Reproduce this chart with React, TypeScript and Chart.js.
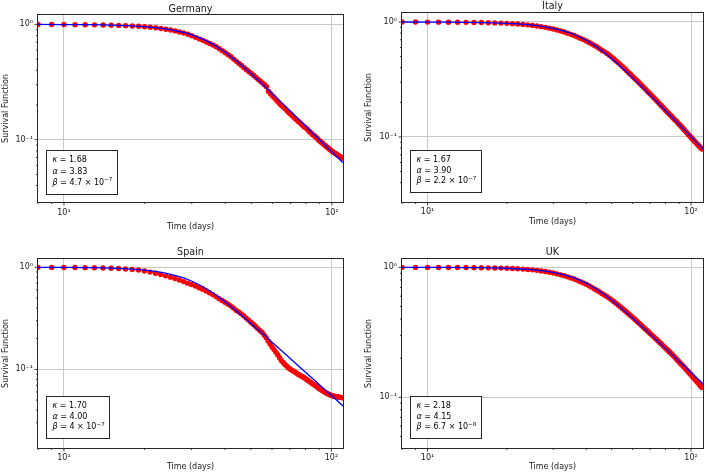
import React, { useEffect, useRef } from 'react';
import { Chart, registerables } from 'chart.js';

Chart.register(...registerables);

const FONT = '"DejaVu Sans", sans-serif';

// ---------- data ----------
const days = [
  8, 9, 10, 11, 12, 13, 14, 15, 16, 17,
  18, 19, 20, 21, 22, 23, 24, 25, 26, 27,
  28, 29, 30, 31, 32, 33, 34, 35, 36, 37,
  38, 39, 40, 41, 42, 43, 44, 45, 46, 47,
  48, 49, 50, 51, 52, 53, 54, 55, 56, 57,
  58, 59, 60, 61, 62, 63, 64, 65, 66, 67,
  68, 69, 70, 71, 72, 73, 74, 75, 76, 77,
  78, 79, 80, 81, 82, 83, 84, 85, 86, 87,
  88, 89, 90, 91, 92, 93, 94, 95, 96, 97,
  98, 99, 100, 101, 102, 103, 104, 105, 106, 107,
  108, 109, 110,
];

const germanyObserved = [
  0.999, 0.998, 0.997, 0.995, 0.994, 0.991, 0.989, 0.985, 0.980, 0.975,
  0.969, 0.962, 0.954, 0.944, 0.934, 0.921, 0.908, 0.893, 0.878, 0.860,
  0.842, 0.820, 0.797, 0.772, 0.748, 0.727, 0.704, 0.682, 0.662, 0.640,
  0.616, 0.592, 0.568, 0.546, 0.524, 0.500, 0.478, 0.458, 0.440, 0.421,
  0.404, 0.389, 0.375, 0.362, 0.348, 0.334, 0.322, 0.311, 0.300, 0.288,
  0.262, 0.250, 0.239, 0.231, 0.221, 0.212, 0.204, 0.197, 0.191, 0.185,
  0.178, 0.172, 0.167, 0.162, 0.157, 0.152, 0.148, 0.144, 0.140, 0.136,
  0.132, 0.129, 0.126, 0.123, 0.119, 0.116, 0.113, 0.110, 0.108, 0.105,
  0.103, 0.100, 0.0975, 0.0955, 0.0935, 0.0915, 0.0895, 0.0877, 0.0860, 0.0843,
  0.0826, 0.0810, 0.0795, 0.0782, 0.0770, 0.0758, 0.0747, 0.0737, 0.0727, 0.0717,
  0.0707, 0.0698, 0.0690,
];

const italyObserved = [
  0.999, 0.999, 0.998, 0.997, 0.996, 0.995, 0.993, 0.991, 0.989, 0.986,
  0.982, 0.978, 0.973, 0.967, 0.961, 0.953, 0.944, 0.934, 0.923, 0.911,
  0.898, 0.884, 0.868, 0.851, 0.834, 0.817, 0.798, 0.781, 0.763, 0.742,
  0.722, 0.703, 0.684, 0.664, 0.643, 0.624, 0.606, 0.586, 0.566, 0.550,
  0.532, 0.514, 0.495, 0.476, 0.458, 0.441, 0.424, 0.408, 0.392, 0.377,
  0.362, 0.349, 0.336, 0.324, 0.313, 0.302, 0.291, 0.281, 0.271, 0.262,
  0.252, 0.244, 0.236, 0.228, 0.221, 0.214, 0.207, 0.200, 0.194, 0.188,
  0.182, 0.177, 0.171, 0.166, 0.162, 0.157, 0.153, 0.148, 0.144, 0.140,
  0.137, 0.133, 0.129, 0.126, 0.123, 0.119, 0.116, 0.113, 0.110, 0.107,
  0.104, 0.102, 0.0990, 0.0965, 0.0942, 0.0920, 0.0899, 0.0878, 0.0858, 0.0839,
  0.0821, 0.0803, 0.0786,
];

const spainObserved = [
  0.998, 0.997, 0.996, 0.994, 0.992, 0.988, 0.984, 0.978, 0.972, 0.963,
  0.953, 0.939, 0.919, 0.897, 0.875, 0.849, 0.824, 0.800, 0.777, 0.750,
  0.724, 0.699, 0.679, 0.655, 0.631, 0.609, 0.587, 0.563, 0.540, 0.516,
  0.493, 0.473, 0.455, 0.437, 0.419, 0.399, 0.379, 0.366, 0.350, 0.335,
  0.318, 0.304, 0.290, 0.277, 0.265, 0.252, 0.241, 0.231, 0.217, 0.204,
  0.190, 0.177, 0.166, 0.157, 0.147, 0.139, 0.130, 0.122, 0.117, 0.112,
  0.108, 0.104, 0.101, 0.0984, 0.0964, 0.0945, 0.0920, 0.0896, 0.0880, 0.0864,
  0.0848, 0.0832, 0.0812, 0.0794, 0.0776, 0.0759, 0.0742, 0.0725, 0.0710, 0.0695,
  0.0681, 0.0666, 0.0648, 0.0638, 0.0626, 0.0614, 0.0604, 0.0593, 0.0584, 0.0576,
  0.0568, 0.0563, 0.0556, 0.0552, 0.0548, 0.0545, 0.0542, 0.0539, 0.0536, 0.0534,
  0.0532, 0.0530, 0.0528,
];

const ukObserved = [
  0.999, 0.999, 0.999, 0.998, 0.998, 0.997, 0.996, 0.994, 0.993, 0.991,
  0.989, 0.986, 0.983, 0.979, 0.975, 0.969, 0.963, 0.956, 0.948, 0.938,
  0.928, 0.916, 0.904, 0.890, 0.875, 0.861, 0.845, 0.829, 0.813, 0.794,
  0.776, 0.758, 0.741, 0.721, 0.701, 0.682, 0.664, 0.645, 0.627, 0.610,
  0.594, 0.577, 0.560, 0.543, 0.527, 0.511, 0.495, 0.480, 0.465, 0.451,
  0.437, 0.424, 0.412, 0.400, 0.388, 0.377, 0.366, 0.355, 0.345, 0.336,
  0.327, 0.318, 0.309, 0.301, 0.293, 0.286, 0.278, 0.271, 0.264, 0.258,
  0.251, 0.245, 0.239, 0.233, 0.228, 0.222, 0.217, 0.212, 0.207, 0.202,
  0.197, 0.192, 0.188, 0.183, 0.179, 0.175, 0.171, 0.167, 0.163, 0.159,
  0.156, 0.152, 0.149, 0.145, 0.142, 0.139, 0.136, 0.133, 0.130, 0.127,
  0.124, 0.121, 0.119,
];

const fitDays = [8, 10, 12, 14, 16, 18, 20, 22, 24, 26, 28, 30, 33, 36, 40, 44, 48, 52, 56, 60, 65, 70, 75, 80, 85, 90, 95, 100, 105, 110, 112];

const germanyFit = [0.9986, 0.9968, 0.9936, 0.9885, 0.981, 0.9703, 0.9559, 0.937, 0.9134, 0.8847, 0.8503, 0.8112, 0.7439, 0.6711, 0.5727, 0.4822, 0.4054, 0.342, 0.2909, 0.2493, 0.2084, 0.1762, 0.1507, 0.1301, 0.1133, 0.0995, 0.088, 0.0783, 0.07, 0.063, 0.0605];
const italyFit = [0.9993, 0.9983, 0.9964, 0.9935, 0.9891, 0.9828, 0.9743, 0.9629, 0.9484, 0.9301, 0.908, 0.8818, 0.8344, 0.7783, 0.6933, 0.6044, 0.5197, 0.4444, 0.3801, 0.3266, 0.2729, 0.2302, 0.1963, 0.169, 0.1468, 0.1285, 0.1133, 0.1005, 0.0897, 0.0804, 0.0772];
const spainFit = [0.9984, 0.996, 0.9917, 0.9847, 0.9741, 0.9589, 0.9381, 0.911, 0.8767, 0.8353, 0.7873, 0.7337, 0.6479, 0.5625, 0.4597, 0.3754, 0.3092, 0.2574, 0.2168, 0.1845, 0.153, 0.1286, 0.1093, 0.0939, 0.0815, 0.0712, 0.0627, 0.0556, 0.0496, 0.0444, 0.0426];
const ukFit = [0.9996, 0.9991, 0.998, 0.9962, 0.9934, 0.9892, 0.9834, 0.9754, 0.9649, 0.9514, 0.9346, 0.9142, 0.8761, 0.8292, 0.7554, 0.6749, 0.5957, 0.5231, 0.4599, 0.406, 0.3501, 0.3047, 0.2674, 0.2367, 0.211, 0.1893, 0.1708, 0.1549, 0.1412, 0.1292, 0.1249];

const panelTitles = ['Germany', 'Italy', 'Spain', 'UK'];
const kappaValues = ['1.68', '1.67', '1.70', '2.18'];
const alphaValues = ['3.83', '3.90', '4.00', '4.15'];
const betaMantissas = ['4.7', '2.2', '4', '6.7'];
const betaExponents = ['\u22127', '\u22127', '\u22127', '\u22128'];

const xMins = [8, 8, 8, 8];
const xMaxs = [110, 111, 110.5, 111];
const yMins = [0.0288, 0.0272, 0.017, 0.0407];
const yMaxs = [1.206, 1.197, 1.205, 1.159];

const xTickValues = [10, 100];
const xTickLabels = ['10\u00b9', '10\u00b2'];
const yTickValues = [1, 0.1];
const yTickLabels = ['10\u2070', '10\u207b\u00b9'];

const xAxisTitle = 'Time (days)';
const yAxisTitle = 'Survival Function';

const observedSeries = [germanyObserved, italyObserved, spainObserved, ukObserved];
const fitSeries = [germanyFit, italyFit, spainFit, ukFit];

// ---------- layout (style only) ----------
const LAYOUT = [
  { left: 0, top: 0, padTop: 15, padRight: 11, yAxisW: 38, xAxisH: 35, yTitlePad: 1, xTitlePad: 5.5, xTickPad: 6, titleGap: 3.5, boxGap: 7, boxH: 45 },
  { left: 354, top: 0, padTop: 13, padRight: 1, yAxisW: 48, xAxisH: 35, yTitlePad: 10, xTitlePad: 10.5, xTickPad: 5, titleGap: 4, boxGap: 9, boxH: 43 },
  { left: 0, top: 237, padTop: 22, padRight: 11, yAxisW: 38, xAxisH: 26, yTitlePad: 1, xTitlePad: 2.2, xTickPad: 5, titleGap: 4.5, boxGap: 9, boxH: 43 },
  { left: 354, top: 237, padTop: 22, padRight: 1, yAxisW: 48, xAxisH: 26, yTitlePad: 10, xTitlePad: 2.2, xTickPad: 5, titleGap: 4, boxGap: 9, boxH: 43 },
];

const W = 354;
const H = 237;
const TEXT = '#1a1a1a';
const SPINE = '#262626';
const GRID = '#c8c8c8';

function isDecade(v: number) {
  if (!(v > 0)) return false;
  const l = Math.log10(v);
  return Math.abs(l - Math.round(l)) < 1e-6;
}

function labelFor(values: number[], labels: string[], v: number) {
  for (let i = 0; i < values.length; i++) {
    if (Math.abs(values[i] - v) / values[i] < 1e-6) return labels[i];
  }
  return '';
}

function makeDecor(i: number) {
  const L = LAYOUT[i];
  return {
    id: 'decor' + i,
    afterDatasetsDraw(chart: any) {
      const { ctx, chartArea: a, scales } = chart;
      ctx.save();
      ctx.strokeStyle = SPINE;
      ctx.lineWidth = 0.9;
      const sig = (v: number) => {
        const e = Math.floor(Math.log10(v) + 1e-9);
        return v / Math.pow(10, e);
      };
      for (const t of scales.x.ticks) {
        const s = sig(t.value);
        if (Math.abs(s - Math.round(s)) > 1e-6) continue;
        const px = scales.x.getPixelForValue(t.value);
        if (px < a.left - 0.5 || px > a.right + 0.5) continue;
        const len = Math.round(s) === 1 ? 3.5 : 2;
        ctx.beginPath();
        ctx.moveTo(px, a.bottom);
        ctx.lineTo(px, a.bottom + len);
        ctx.stroke();
      }
      for (const t of scales.y.ticks) {
        const s = sig(t.value);
        if (Math.abs(s - Math.round(s)) > 1e-6) continue;
        const py = scales.y.getPixelForValue(t.value);
        if (py < a.top - 0.5 || py > a.bottom + 0.5) continue;
        const len = Math.round(s) === 1 ? 3.5 : 2;
        ctx.beginPath();
        ctx.moveTo(a.left, py);
        ctx.lineTo(a.left - len, py);
        ctx.stroke();
      }
      ctx.strokeStyle = SPINE;
      ctx.lineWidth = 1;
      ctx.strokeRect(a.left - 0.5, a.top - 0.5, a.right - a.left + 1, a.bottom - a.top + 1);
      ctx.fillStyle = TEXT;
      ctx.font = `9.6px ${FONT}`;
      ctx.textAlign = 'center';
      ctx.textBaseline = 'alphabetic';
      ctx.fillText(panelTitles[i], (a.left + a.right) / 2, a.top - L.titleGap);
      const size = 8;
      const lines = [
        [{ t: '\u03ba', it: true }, { t: ' = ' + kappaValues[i] }],
        [{ t: '\u03b1', it: true }, { t: ' = ' + alphaValues[i] }],
        [{ t: '\u03b2', it: true }, { t: ' = ' + betaMantissas[i] + ' \u00d7 10' }, { t: betaExponents[i], sup: true }],
      ] as { t: string; it?: boolean; sup?: boolean }[][];
      const fontOf = (seg: { it?: boolean; sup?: boolean }) =>
        `${seg.it ? 'italic ' : ''}${seg.sup ? size * 0.7 : size}px ${FONT}`;
      let maxW = 0;
      for (const line of lines) {
        let w = 0;
        for (const seg of line) {
          ctx.font = fontOf(seg);
          w += ctx.measureText(seg.t).width;
        }
        maxW = Math.max(maxW, w);
      }
      const boxLeft = Math.round(a.left + 8);
      const textX = boxLeft + 6.5;
      const boxBottom = Math.round(a.bottom - L.boxGap);
      const boxTop = boxBottom - L.boxH;
      const boxRight = Math.round(textX + maxW + 5.5);
      ctx.fillStyle = '#ffffff';
      ctx.fillRect(boxLeft, boxTop, boxRight - boxLeft, boxBottom - boxTop);
      ctx.strokeStyle = SPINE;
      ctx.lineWidth = 1;
      ctx.strokeRect(boxLeft + 0.5, boxTop + 0.5, boxRight - boxLeft - 1, boxBottom - boxTop - 1);
      ctx.fillStyle = '#000000';
      ctx.textAlign = 'left';
      ctx.textBaseline = 'alphabetic';
      const step = (L.boxH - 12) / 3 + 0.2;
      lines.forEach((line, li) => {
        let x = textX;
        const base = boxTop + 12.3 + li * step;
        for (const seg of line) {
          ctx.font = fontOf(seg);
          ctx.fillText(seg.t, x, seg.sup ? base - 3.4 : base);
          x += ctx.measureText(seg.t).width;
        }
      });
      ctx.restore();
    },
  };
}

function makeConfig(i: number): any {
  const L = LAYOUT[i];
  const obs = observedSeries[i];
  const fit = fitSeries[i];
  const gridColor = (c: any) => (c.tick && isDecade(c.tick.value) ? GRID : 'rgba(0,0,0,0)');
  return {
    type: 'scatter',
    data: {
      datasets: [
        {
          label: 'fit',
          data: fitDays.map((d, k) => ({ x: d, y: fit[k] })),
          showLine: true,
          borderColor: '#0000ff',
          backgroundColor: '#0000ff',
          borderWidth: 1.3,
          pointRadius: 0,
          tension: 0,
        },
        {
          label: 'observed',
          data: days.map((d, k) => ({ x: d, y: obs[k] })),
          showLine: false,
          pointRadius: 2.7,
          pointBorderWidth: 0,
          pointBackgroundColor: '#ff0000',
          backgroundColor: '#ff0000',
          borderColor: '#ff0000',
        },
      ],
    },
    options: {
      animation: false,
      responsive: false,
      maintainAspectRatio: false,
      devicePixelRatio: 1,
      events: [],
      layout: { padding: { top: L.padTop, right: L.padRight, left: 0, bottom: 0 } },
      plugins: { legend: { display: false }, tooltip: { enabled: false }, title: { display: false } },
      scales: {
        x: {
          type: 'logarithmic',
          position: 'bottom',
          min: xMins[i],
          max: xMaxs[i],
          afterFit: (s: any) => {
            s.height = L.xAxisH;
          },
          border: { display: false },
          grid: { color: gridColor, lineWidth: 1, drawTicks: false },
          ticks: {
            autoSkip: false,
            maxRotation: 0,
            padding: L.xTickPad,
            color: TEXT,
            font: { family: FONT, size: 8 },
            callback: (v: any) => labelFor(xTickValues, xTickLabels, Number(v)),
          },
          title: {
            display: true,
            text: xAxisTitle,
            color: TEXT,
            font: { family: FONT, size: 8 },
            padding: { top: 0, bottom: L.xTitlePad },
          },
        },
        y: {
          type: 'logarithmic',
          position: 'left',
          min: yMins[i],
          max: yMaxs[i],
          afterFit: (s: any) => {
            s.width = L.yAxisW;
          },
          border: { display: false },
          grid: { color: gridColor, lineWidth: 1, drawTicks: false },
          ticks: {
            autoSkip: false,
            padding: 5,
            color: TEXT,
            font: { family: FONT, size: 8 },
            callback: (v: any) => labelFor(yTickValues, yTickLabels, Number(v)),
          },
          title: {
            display: true,
            text: yAxisTitle,
            color: TEXT,
            font: { family: FONT, size: 8 },
            padding: { top: L.yTitlePad, bottom: 0 },
          },
        },
      },
    },
    plugins: [makeDecor(i)],
  };
}

function Panel({ index }: { index: number }) {
  const ref = useRef<HTMLCanvasElement>(null);
  useEffect(() => {
    const canvas = ref.current;
    if (!canvas) return;
    const chart = new Chart(canvas, makeConfig(index));
    return () => chart.destroy();
  }, [index]);
  const L = LAYOUT[index];
  return (
    <canvas
      ref={ref}
      width={W}
      height={H}
      style={{ position: 'absolute', left: L.left, top: L.top, width: W, height: H, display: 'block' }}
    />
  );
}

export default function App() {
  return (
    <div style={{ position: 'fixed', left: 0, top: 0, width: 708, height: 474, background: '#ffffff', overflow: 'hidden' }}>
      {[0, 1, 2, 3].map((i) => (
        <Panel key={i} index={i} />
      ))}
    </div>
  );
}
